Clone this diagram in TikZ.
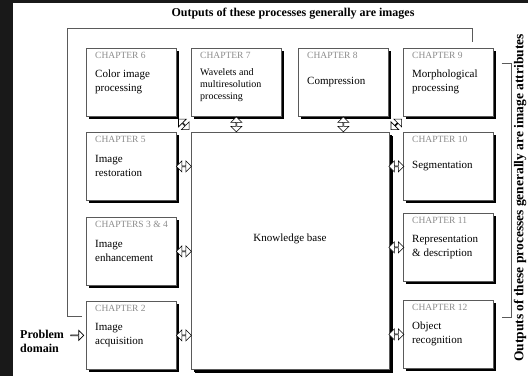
\documentclass[tikz,border=0pt]{standalone}
\usepackage{fontspec}
\setmainfont{Liberation Serif}
\usepackage{tikz}
\usetikzlibrary{positioning, calc, shapes.arrows, shadows}
\definecolor{headgray}{RGB}{140,140,140}
\definecolor{edgegray}{RGB}{90,90,90}

\tikzset{
  chapbox/.style={draw=edgegray, fill=white, line width=0.7pt, anchor=north west,
    minimum width=90pt, minimum height=68pt, inner sep=0pt,
    drop shadow={shadow xshift=3pt, shadow yshift=-3pt, fill=black, opacity=1}},
  chaphead/.style={anchor=west, inner sep=0pt, text=headgray, font=\fontsize{9.5}{11}\selectfont},
  chaptext/.style={anchor=west, inner sep=0pt, align=left, font=\fontsize{11}{13.5}\selectfont},
  dblarrow/.style={double arrow, draw=black, fill=white, line width=0.6pt, inner sep=0pt,
    minimum height=15pt, minimum width=11pt, double arrow head extend=3pt},
  sglarrow/.style={single arrow, draw=black, fill=white, line width=0.6pt, inner sep=0pt,
    minimum height=13pt, minimum width=10pt, single arrow head extend=3pt},
  bracket/.style={draw=edgegray, line width=0.7pt},
  outtext/.style={font=\fontsize{12}{14}\selectfont\bfseries, inner sep=0pt}
}

\begin{document}
\begin{tikzpicture}[x=1pt, y=-1pt]
  \useasboundingbox (0,0) rectangle (528,376);
  \fill[black!90] (0,0) rectangle (528,376);
  \fill[white] (13,3) rectangle (528,376);

  % chapter boxes, top row
  \node[chapbox] (ch6) at (86,48) {};
  \node[chapbox] (ch7) at (191,48) {};
  \node[chapbox] (ch8) at (298,48) {};
  \node[chapbox] (ch9) at (403,48) {};
  % left column
  \node[chapbox] (ch5) at (86,132) {};
  \node[chapbox] (ch34) at (86,217) {};
  \node[chapbox] (ch2) at (86,301) {};
  % right column
  \node[chapbox] (ch10) at (403,132) {};
  \node[chapbox] (ch11) at (403,213) {};
  \node[chapbox] (ch12) at (403,300) {};
  % knowledge base
  \node[chapbox, minimum width=198pt, minimum height=237pt,
    drop shadow={shadow xshift=4pt, shadow yshift=-4pt, fill=black, opacity=1}] (kb) at (191,132) {};
  \node[font=\fontsize{11}{13}\selectfont] (kbtext) at (290,239) {Knowledge base};

  % headings and texts
  \node[chaphead] at ([shift={(9pt,-7pt)}]ch6.north west) {CHAPTER 6};
  \node[chaptext] at ([shift={(9pt,-34pt)}]ch6.north west) {Color image\\processing};
  \node[chaphead] at ([shift={(9pt,-7pt)}]ch7.north west) {CHAPTER 7};
  \node[chaptext, font=\fontsize{10}{12}\selectfont] at ([shift={(9pt,-37pt)}]ch7.north west) {Wavelets and\\multiresolution\\processing};
  \node[chaphead] at ([shift={(9pt,-7pt)}]ch8.north west) {CHAPTER 8};
  \node[chaptext] at ([shift={(9pt,-34pt)}]ch8.north west) {Compression};
  \node[chaphead] at ([shift={(9pt,-7pt)}]ch9.north west) {CHAPTER 9};
  \node[chaptext] at ([shift={(9pt,-34pt)}]ch9.north west) {Morphological\\processing};
  \node[chaphead] at ([shift={(9pt,-7pt)}]ch5.north west) {CHAPTER 5};
  \node[chaptext] at ([shift={(9pt,-34pt)}]ch5.north west) {Image\\restoration};
  \node[chaphead] at ([shift={(9pt,-7pt)}]ch34.north west) {CHAPTERS 3 \& 4};
  \node[chaptext] at ([shift={(9pt,-34pt)}]ch34.north west) {Image\\enhancement};
  \node[chaphead] at ([shift={(9pt,-7pt)}]ch2.north west) {CHAPTER 2};
  \node[chaptext] at ([shift={(9pt,-34pt)}]ch2.north west) {Image\\acquisition};
  \node[chaphead] at ([shift={(9pt,-7pt)}]ch10.north west) {CHAPTER 10};
  \node[chaptext] at ([shift={(9pt,-34pt)}]ch10.north west) {Segmentation};
  \node[chaphead] at ([shift={(9pt,-7pt)}]ch11.north west) {CHAPTER 11};
  \node[chaptext] at ([shift={(9pt,-34pt)}]ch11.north west) {Representation\\\& description};
  \node[chaphead] at ([shift={(9pt,-7pt)}]ch12.north west) {CHAPTER 12};
  \node[chaptext] at ([shift={(9pt,-34pt)}]ch12.north west) {Object\\recognition};

  % arrows to and from the knowledge base
  \node[dblarrow, rotate=-45] (a6) at ($(ch6.south east)!0.5!(kb.north west)$) {};
  \node[dblarrow, rotate=90] (a7) at ($(ch7.south)!0.5!(ch7.south |- kb.north)$) {};
  \node[dblarrow, rotate=90] (a8) at ($(ch8.south)!0.5!(ch8.south |- kb.north)$) {};
  \node[dblarrow, rotate=45] (a9) at ($(ch9.south west)!0.5!(kb.north east)$) {};
  \node[dblarrow] (a5) at ($(ch5.east)!0.5!(ch5.east -| kb.west)$) {};
  \node[dblarrow] (a34) at ($(ch34.east)!0.5!(ch34.east -| kb.west)$) {};
  \node[dblarrow] (a2) at ($(ch2.east)!0.5!(ch2.east -| kb.west)$) {};
  \node[dblarrow] (a10) at ($(ch10.west)!0.5!(ch10.west -| kb.east)$) {};
  \node[dblarrow] (a11) at ($(ch11.west)!0.5!(ch11.west -| kb.east)$) {};
  \node[dblarrow] (a12) at ($(ch12.west)!0.5!(ch12.west -| kb.east)$) {};

  % problem domain
  \node[outtext, anchor=west, align=left] (problem) at (20,341) {Problem\\domain};
  \node[sglarrow] (pdarrow) at ([xshift=-9pt]ch2.west) {};

  % output brackets
  \coordinate (topleft) at (67,28);
  \draw[bracket] ([shift={(-4pt,-15pt)}]ch2.north west) -| (topleft) -| ([shift={(24pt,6pt)}]ch9.north);
  \draw[bracket] ([shift={(8pt,-15pt)}]ch9.north east) -- ++(10,0) |- ([shift={(8pt,-17pt)}]ch12.north east);
  \node[outtext] (imgout) at (293,14) {Outputs of these processes generally are images};
  \node[outtext, font=\fontsize{13.5}{15}\selectfont\bfseries, rotate=90] (attrout) at (520,198) {Outputs of these processes generally are image attributes};
\end{tikzpicture}
\end{document}
